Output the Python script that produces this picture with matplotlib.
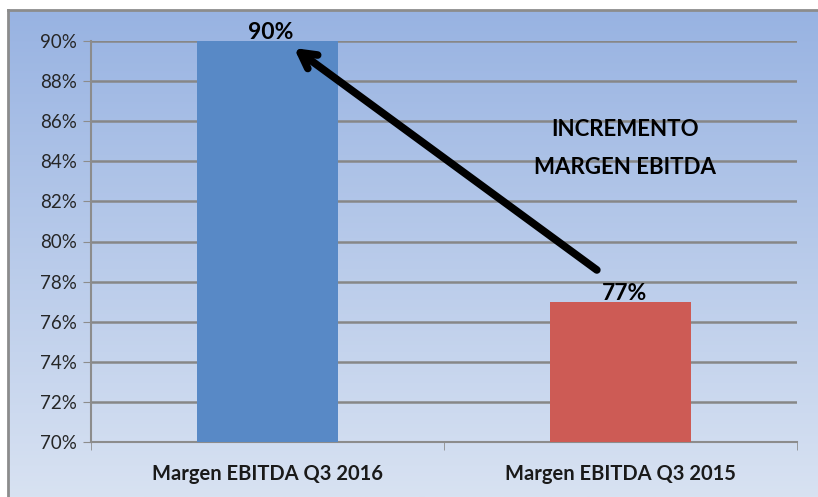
import numpy as np
import matplotlib.pyplot as plt

# data
categorias = ["Margen EBITDA Q3 2016", "Margen EBITDA Q3 2015"]
margen = [90, 77]
etiquetas = ["90%", "77%"]
yticks = [70, 72, 74, 76, 78, 80, 82, 84, 86, 88, 90]

plt.rcParams['font.family'] = ['Lato', 'DejaVu Sans']

fig = plt.figure(figsize=(8.18, 4.97), dpi=100)

# gradient background of the chart area
bg = fig.add_axes([8/818, 0, 1 - 8/818, 1 - 10/497])
grad = np.linspace(0, 1, 256).reshape(-1, 1)
top = np.array([0x98, 0xB3, 0xE2]) / 255
bot = np.array([0xD8, 0xE2, 0xF2]) / 255
img = top + (bot - top) * grad[:, :, None]
bg.imshow(img, aspect='auto', extent=[0, 1, 0, 1], origin='upper')
bg.set_xticks([])
bg.set_yticks([])
for s in bg.spines.values():
    s.set_color('#8c8c8c')
    s.set_linewidth(2)
bg.spines['right'].set_visible(False)
bg.spines['bottom'].set_visible(False)

ax = fig.add_axes([91/818, 55/497, 706/818, 401/497])
ax.patch.set_alpha(0)
x = np.arange(len(categorias))
ax.bar(x, [m - 70 for m in margen], bottom=70, width=0.4,
       color=['#5889C6', '#CD5B55'], zorder=3)
ax.set_xlim(-0.5, 1.5)
ax.set_ylim(70, 90)
ax.set_yticks(yticks)
ax.set_yticklabels([f"{t}%" for t in yticks], fontsize=13.5, color='#262626')
ax.set_xticks(x)
ax.set_xticklabels(categorias, fontsize=14.5, fontweight='bold', color='#1a1a1a')
ax.set_xticks([-0.5, 0.5, 1.5], minor=True)
ax.tick_params(axis='x', which='major', length=0, pad=16)
ax.tick_params(axis='x', which='minor', length=6, color='#8c8c8c')
ax.tick_params(axis='y', length=6, color='#8c8c8c', pad=4)
ax.grid(axis='y', color='#878787', linewidth=1.8, zorder=1)
for s in ['top', 'right']:
    ax.spines[s].set_visible(False)
ax.spines['left'].set_color('#8c8c8c')
ax.spines['bottom'].set_color('#8c8c8c')
ax.spines['left'].set_linewidth(1.5)
ax.spines['bottom'].set_linewidth(1.5)

for xi, m, lab in zip(x, margen, etiquetas):
    ax.text(xi + 0.01, m - 0.1, lab, ha='center', va='bottom',
            fontsize=16.5, fontweight='bold', color='black', zorder=5)

ax.annotate('', xy=(0.075, 89.65), xytext=(0.933, 78.58),
            arrowprops=dict(arrowstyle='->,head_length=1.1,head_width=0.6',
                            color='black', lw=5.5, capstyle='round',
                            joinstyle='round', shrinkA=0, shrinkB=0),
            zorder=6)

ax.text(1.013, 84.62, "INCREMENTO\nMARGEN EBITDA", ha='center', va='center',
        fontsize=16, fontweight='bold', color='black', linespacing=2.0)

fig.savefig('out.png', dpi=100)
